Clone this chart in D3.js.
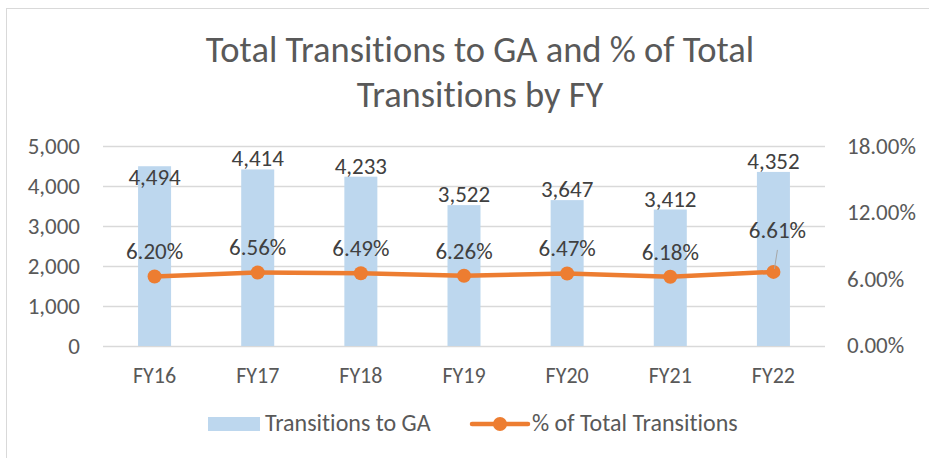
<!DOCTYPE html>
<html>
<head>
<meta charset="utf-8">
<script src="https://cdn.jsdelivr.net/npm/d3@7"></script>
<style>
  body { margin: 0; background: #fff; }
  svg { display: block; font-family: Carlito, Calibri, Lato, sans-serif; font-variant-ligatures: none; }
</style>
</head>
<body>
<svg id="chart" width="929" height="458"></svg>
<script>
// ===== DATA =====
const years = ["FY16", "FY17", "FY18", "FY19", "FY20", "FY21", "FY22"];
const transitions = [4494, 4414, 4233, 3522, 3647, 3412, 4352];
const pctOfTotal = [6.20, 6.56, 6.49, 6.26, 6.47, 6.18, 6.61];
const leftTicks = [0, 1000, 2000, 3000, 4000, 5000];
const rightTicks = [0, 6, 12, 18];

const svg = d3.select("#chart");
const W = 929, H = 458;
const FONT = "Carlito, Calibri, Lato, sans-serif";

// plot area
const plot = { left: 103, right: 825, top: 146, bottom: 346 };

const textGrey = "#595959";
const labelGrey = "#404040";
const barColor = "#BDD7EE";
const lineColor = "#ED7D31";

// chart frame
svg.append("rect")
  .attr("x", 6.5).attr("y", 8.5)
  .attr("width", W + 10).attr("height", H + 10)
  .attr("fill", "#fff")
  .attr("stroke", "#d9d9d9");

// ===== TITLE =====
const title = svg.append("text")
  .attr("text-anchor", "middle")
  .attr("fill", textGrey)
  .style("font-size", "36.5px");
title.append("tspan").attr("x", 480).attr("y", 62).text("Total Transitions to GA and % of Total");
title.append("tspan").attr("x", 480).attr("y", 107).text("Transitions by FY");

// ===== SCALES =====
const x = d3.scaleBand().domain(years).range([plot.left, plot.right]);
const yL = d3.scaleLinear().domain([0, 5000]).range([plot.bottom, plot.top]);
const yR = d3.scaleLinear().domain([0, 18]).range([plot.bottom - 1, plot.top]);
const cx = i => x(years[i]) + x.bandwidth() / 2;

// gridlines
svg.append("g")
  .selectAll("line")
  .data(leftTicks)
  .enter().append("line")
  .attr("x1", plot.left).attr("x2", plot.right)
  .attr("y1", d => Math.round(yL(d)) + 0.5)
  .attr("y2", d => Math.round(yL(d)) + 0.5)
  .attr("stroke", "#d9d9d9")
  .attr("stroke-width", 1.3);

// left axis
const leftAxis = svg.append("g")
  .attr("transform", `translate(${plot.left - 23},0)`)
  .call(d3.axisLeft(yL).tickValues(leftTicks).tickSize(0).tickPadding(0).tickFormat(d3.format(",")));
leftAxis.select(".domain").remove();
leftAxis.selectAll("text")
  .attr("fill", textGrey)
  .style("font-size", "23px")
  .style("font-family", FONT);

// right axis
const rightAxis = svg.append("g")
  .attr("transform", `translate(${plot.right + 22},0)`)
  .call(d3.axisRight(yR).tickValues(rightTicks).tickSize(0).tickPadding(0).tickFormat(d => d.toFixed(2) + "%"));
rightAxis.select(".domain").remove();
rightAxis.selectAll("text")
  .attr("fill", textGrey)
  .style("font-size", "23px")
  .style("font-family", FONT);

// category axis
const catAxis = svg.append("g")
  .attr("transform", `translate(0,${plot.bottom})`)
  .call(d3.axisBottom(x).tickSize(0).tickPadding(0));
catAxis.select(".domain").remove();
catAxis.selectAll("text")
  .attr("fill", textGrey)
  .attr("y", 37)
  .attr("dy", null)
  .style("font-size", "22px")
  .style("font-family", FONT);

// ===== BARS =====
const barW = x.bandwidth() * 0.32;
svg.append("g")
  .selectAll("rect")
  .data(transitions)
  .enter().append("rect")
  .attr("x", (d, i) => cx(i) - barW / 2)
  .attr("y", d => yL(d))
  .attr("width", barW)
  .attr("height", d => yL(0) - yL(d))
  .attr("fill", barColor);

// bar labels (pushed inside the bar if they would leave the plot)
svg.append("g")
  .selectAll("text")
  .data(transitions)
  .enter().append("text")
  .attr("x", (d, i) => cx(i))
  .attr("y", d => {
    const above = yL(d) - 3;
    return above - 18 < plot.top ? yL(d) + 19 : above;
  })
  .attr("text-anchor", "middle")
  .attr("fill", labelGrey)
  .style("font-size", "23px")
  .text(d => d3.format(",")(d));

// ===== LINE =====
const line = d3.line()
  .x((d, i) => cx(i))
  .y(d => yR(d));

svg.append("path")
  .datum(pctOfTotal)
  .attr("d", line)
  .attr("fill", "none")
  .attr("stroke", lineColor)
  .attr("stroke-width", 4.5)
  .attr("stroke-linejoin", "round");

svg.append("g")
  .selectAll("circle")
  .data(pctOfTotal)
  .enter().append("circle")
  .attr("cx", (d, i) => cx(i))
  .attr("cy", d => yR(d))
  .attr("r", 7)
  .attr("fill", lineColor);

// line labels; the last one sits higher with a leader line
const last = pctOfTotal.length - 1;
const lblOffset = i => (i === last ? 34 : 17);

svg.append("line")
  .attr("x1", cx(last) + 4).attr("y1", yR(pctOfTotal[last]) - 22)
  .attr("x2", cx(last) + 1).attr("y2", yR(pctOfTotal[last]) - 3)
  .attr("stroke", "#a6a6a6")
  .attr("stroke-width", 1);

svg.append("g")
  .selectAll("text")
  .data(pctOfTotal)
  .enter().append("text")
  .attr("x", (d, i) => cx(i) + (i === last ? 4 : 0))
  .attr("y", (d, i) => yR(d) - lblOffset(i))
  .attr("text-anchor", "middle")
  .attr("fill", labelGrey)
  .style("font-size", "23px")
  .text(d => d.toFixed(2) + "%");

// ===== LEGEND =====
const legY = 424;
const leg = svg.append("g");
leg.append("rect")
  .attr("x", 208).attr("y", legY - 7)
  .attr("width", 52).attr("height", 14)
  .attr("fill", barColor);
leg.append("text")
  .attr("x", 265).attr("y", legY + 7)
  .attr("fill", textGrey)
  .style("font-size", "24px")
  .text("Transitions to GA");
leg.append("line")
  .attr("x1", 472).attr("x2", 528)
  .attr("y1", legY).attr("y2", legY)
  .attr("stroke", lineColor)
  .attr("stroke-width", 4.5)
  .attr("stroke-linecap", "round");
leg.append("circle")
  .attr("cx", 500).attr("cy", legY).attr("r", 7)
  .attr("fill", lineColor);
leg.append("text")
  .attr("x", 532).attr("y", legY + 7)
  .attr("fill", textGrey)
  .style("font-size", "24px")
  .text("% of Total Transitions");
</script>
</body>
</html>
